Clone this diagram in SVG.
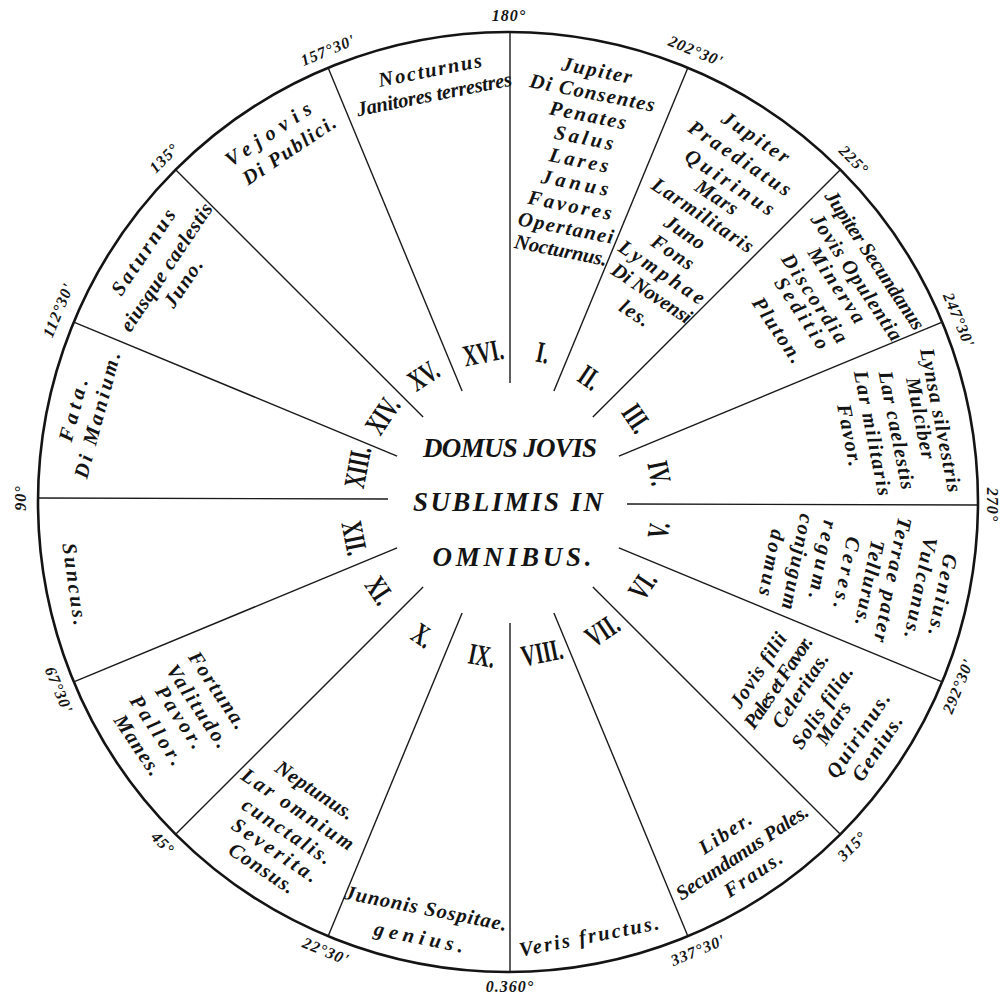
<svg xmlns="http://www.w3.org/2000/svg" width="1004" height="1002" viewBox="0 0 1004 1002">
<style>
.t{font-family:"Liberation Serif",serif;font-weight:bold;font-style:italic;font-size:20.5px;fill:#141414;text-anchor:middle;dominant-baseline:central}
.num{font-family:"Liberation Serif",serif;font-weight:bold;font-size:30px;fill:#141414;text-anchor:middle;dominant-baseline:central}
.deg{font-family:"Liberation Serif",serif;font-weight:bold;font-style:italic;font-size:16px;fill:#141414;text-anchor:middle;dominant-baseline:central;letter-spacing:1px}
.title{font-family:"Liberation Serif",serif;font-weight:bold;font-style:italic;font-size:27px;fill:#141414;text-anchor:middle;dominant-baseline:central}
.spoke{stroke:#1a1a1a;stroke-width:1.4;fill:none}
.rim{stroke:#141414;stroke-width:2.6;fill:none}
</style>
<rect width="1004" height="1002" fill="#ffffff"/>
<g id="rim"><circle class="rim" cx="508" cy="502" r="470"/></g>
<g id="spokes">
<line class="spoke" x1="510" y1="383" x2="510" y2="33"/>
<line class="spoke" x1="553.9" y1="391.1" x2="687.9" y2="67.8"/>
<line class="spoke" x1="592.9" y1="417.1" x2="840.3" y2="169.7"/>
<line class="spoke" x1="618.9" y1="456.1" x2="942.2" y2="322.1"/>
<line class="spoke" x1="627" y1="504" x2="977" y2="505"/>
<line class="spoke" x1="618.9" y1="547.9" x2="942.2" y2="681.9"/>
<line class="spoke" x1="592.9" y1="586.9" x2="840.3" y2="834.3"/>
<line class="spoke" x1="553.9" y1="612.9" x2="687.9" y2="936.2"/>
<line class="spoke" x1="510" y1="623" x2="510" y2="971"/>
<line class="spoke" x1="462.1" y1="612.9" x2="328.1" y2="936.2"/>
<line class="spoke" x1="423.1" y1="586.9" x2="175.7" y2="834.3"/>
<line class="spoke" x1="397.1" y1="547.9" x2="73.8" y2="681.9"/>
<line class="spoke" x1="388" y1="499" x2="37" y2="498"/>
<line class="spoke" x1="397.1" y1="456.1" x2="73.8" y2="322.1"/>
<line class="spoke" x1="423.1" y1="417.1" x2="175.7" y2="169.7"/>
<line class="spoke" x1="462.1" y1="391.1" x2="328.1" y2="67.8"/>
</g>
<g id="degree-labels">
<text class="deg" transform="translate(509 15)">180°</text>
<text class="deg" transform="translate(696 51) rotate(22.5)">202°30'</text>
<text class="deg" transform="translate(854 160) rotate(45)">225°</text>
<text class="deg" transform="translate(959 320) rotate(67.5)">247°30'</text>
<text class="deg" transform="translate(992 505) rotate(90)">270°</text>
<text class="deg" transform="translate(958 686) rotate(-67.5)">292°30'</text>
<text class="deg" transform="translate(852 846) rotate(-45)">315°</text>
<text class="deg" transform="translate(698 950) rotate(-22.5)">337°30'</text>
<text class="deg" transform="translate(510 986)">0.360°</text>
<text class="deg" transform="translate(326 951) rotate(22.5)">22°30'</text>
<text class="deg" transform="translate(163 843) rotate(45)">45°</text>
<text class="deg" transform="translate(59 690) rotate(67.5)">67°30'</text>
<text class="deg" transform="translate(20 498) rotate(-90)">90°</text>
<text class="deg" transform="translate(58 310) rotate(-67.5)">112°30'</text>
<text class="deg" transform="translate(164 158) rotate(-45)">135°</text>
<text class="deg" transform="translate(328 50) rotate(-22.5)">157°30'</text>
</g>
<g id="center-title">
<text class="title" x="510" y="448" textLength="174" lengthAdjust="spacing">DOMUS JOVIS</text>
<text class="title" x="508" y="502" textLength="190" lengthAdjust="spacing">SUBLIMIS IN</text>
<text class="title" x="512" y="557" textLength="159" lengthAdjust="spacing">OMNIBUS.</text>
</g>
<g id="sector-I">
<text class="num" transform="translate(543 352) rotate(11.25) scale(0.65 1)">I.</text>
<text class="t" transform="translate(597 70) rotate(11.25)" textLength="71" lengthAdjust="spacing">Jupiter</text>
<text class="t" transform="translate(592.5 92.5) rotate(11.25)" textLength="127" lengthAdjust="spacing">Di Consentes</text>
<text class="t" transform="translate(588 115) rotate(11.25)" textLength="78" lengthAdjust="spacing">Penates</text>
<text class="t" transform="translate(584 137.5) rotate(11.25)" textLength="60" lengthAdjust="spacing">Salus</text>
<text class="t" transform="translate(579 160) rotate(11.25)" textLength="60" lengthAdjust="spacing">Lares</text>
<text class="t" transform="translate(575 182.5) rotate(11.25)" textLength="68" lengthAdjust="spacing">Janus</text>
<text class="t" transform="translate(570 205) rotate(11.25)" textLength="85" lengthAdjust="spacing">Favores</text>
<text class="t" transform="translate(566 227.5) rotate(11.25)" textLength="97" lengthAdjust="spacing">Opertanei</text>
<text class="t" transform="translate(561 250) rotate(11.25)" textLength="94" lengthAdjust="spacing">Nocturnus.</text>
</g>
<g id="sector-II">
<text class="num" transform="translate(590 377) rotate(33.75) scale(0.65 1)">II.</text>
<text class="t" transform="translate(756 137) rotate(33.75)" textLength="77" lengthAdjust="spacing">Jupiter</text>
<text class="t" transform="translate(740 158) rotate(33.75)" textLength="119" lengthAdjust="spacing">Praediatus</text>
<text class="t" transform="translate(730 182) rotate(33.75)" textLength="103" lengthAdjust="spacing">Quirinus</text>
<text class="t" transform="translate(717 197) rotate(33.75)" textLength="47" lengthAdjust="spacing">Mars</text>
<text class="t" transform="translate(703 215) rotate(33.75)" textLength="118" lengthAdjust="spacing">Larmilitaris</text>
<text class="t" transform="translate(685 232) rotate(33.75)" textLength="45" lengthAdjust="spacing">Juno</text>
<text class="t" transform="translate(673 252) rotate(33.75)" textLength="47" lengthAdjust="spacing">Fons</text>
<text class="t" transform="translate(662 272) rotate(33.75)" textLength="99" lengthAdjust="spacing">Lymphae</text>
<text class="t" transform="translate(652 293) rotate(33.75)" textLength="92" lengthAdjust="spacing">Di Novensi</text>
<text class="t" transform="translate(635 313) rotate(33.75)" textLength="32" lengthAdjust="spacing">les.</text>
</g>
<g id="sector-III">
<text class="num" transform="translate(637 418) rotate(56.25) scale(0.65 1)">III.</text>
<text class="t" transform="translate(875 260) rotate(56.25)" textLength="163" lengthAdjust="spacing">Jupiter Secundanus</text>
<text class="t" transform="translate(857 277) rotate(56.25)" textLength="148" lengthAdjust="spacing">Jovis Opulentia</text>
<text class="t" transform="translate(837 285) rotate(56.25)" textLength="87" lengthAdjust="spacing">Minerva</text>
<text class="t" transform="translate(815 298) rotate(56.25)" textLength="103" lengthAdjust="spacing">Discordia</text>
<text class="t" transform="translate(802 313) rotate(56.25)" textLength="82" lengthAdjust="spacing">Seditio</text>
<text class="t" transform="translate(778 330) rotate(56.25)" textLength="75" lengthAdjust="spacing">Pluton.</text>
</g>
<g id="sector-IV">
<text class="num" transform="translate(660 473) rotate(78.75) scale(0.65 1)">IV.</text>
<text class="t" transform="translate(941 420) rotate(78.75)" textLength="146" lengthAdjust="spacing">Lynsa silvestris</text>
<text class="t" transform="translate(921 418) rotate(78.75)" textLength="83" lengthAdjust="spacing">Mulciber</text>
<text class="t" transform="translate(897 430) rotate(78.75)" textLength="120" lengthAdjust="spacing">Lar caelestis</text>
<text class="t" transform="translate(873 433) rotate(78.75)" textLength="127" lengthAdjust="spacing">Lar militaris</text>
<text class="t" transform="translate(850 435) rotate(78.75)" textLength="63" lengthAdjust="spacing">Favor.</text>
</g>
<g id="sector-V">
<text class="num" transform="translate(658 530) rotate(-78.75) scale(0.65 1)">V.</text>
<text class="t" transform="translate(772 563) rotate(101.25)" textLength="67" lengthAdjust="spacing">domus</text>
<text class="t" transform="translate(798 562) rotate(101.25)" textLength="97" lengthAdjust="spacing">conjugum</text>
<text class="t" transform="translate(823 560) rotate(101.25)" textLength="80" lengthAdjust="spacing">regum.</text>
<text class="t" transform="translate(847 573) rotate(101.25)" textLength="73" lengthAdjust="spacing">Ceres.</text>
<text class="t" transform="translate(870 583) rotate(101.25)" textLength="87" lengthAdjust="spacing">Tellurus.</text>
<text class="t" transform="translate(893 580) rotate(101.25)" textLength="127" lengthAdjust="spacing">Terrae pater</text>
<text class="t" transform="translate(921 588) rotate(101.25)" textLength="103" lengthAdjust="spacing">Vulcanus.</text>
<text class="t" transform="translate(943 595) rotate(101.25)" textLength="83" lengthAdjust="spacing">Genius.</text>
</g>
<g id="sector-VI">
<text class="num" transform="translate(642 585) rotate(-56.25) scale(0.65 1)">VI.</text>
<text class="t" transform="translate(758 670) rotate(-56.25)" textLength="86" lengthAdjust="spacing">Jovis filii</text>
<text class="t" transform="translate(778 682) rotate(-56.25)" textLength="107" lengthAdjust="spacing">Pales et Favor.</text>
<text class="t" transform="translate(800 690) rotate(-56.25)" textLength="86" lengthAdjust="spacing">Celeritas.</text>
<text class="t" transform="translate(822 707) rotate(-56.25)" textLength="95" lengthAdjust="spacing">Solis filia.</text>
<text class="t" transform="translate(833 723) rotate(-56.25)" textLength="47" lengthAdjust="spacing">Mars</text>
<text class="t" transform="translate(858 735) rotate(-56.25)" textLength="98" lengthAdjust="spacing">Quirinus.</text>
<text class="t" transform="translate(877 748) rotate(-56.25)" textLength="75" lengthAdjust="spacing">Genius.</text>
</g>
<g id="sector-VII">
<text class="num" transform="translate(602 630) rotate(-33.75) scale(0.65 1)">VII.</text>
<text class="t" transform="translate(725 833) rotate(-33.75)" textLength="59" lengthAdjust="spacing">Liber.</text>
<text class="t" transform="translate(742 852) rotate(-33.75)" textLength="155" lengthAdjust="spacing">Secundanus Pales.</text>
<text class="t" transform="translate(753 874) rotate(-33.75)" textLength="66" lengthAdjust="spacing">Fraus.</text>
</g>
<g id="sector-VIII">
<text class="num" transform="translate(542 652) rotate(-11.25) scale(0.65 1)">VIII.</text>
<text class="t" transform="translate(589 936) rotate(-11.25)" textLength="142" lengthAdjust="spacing">Veris fructus.</text>
</g>
<g id="sector-IX">
<text class="num" transform="translate(482 655) rotate(11.25) scale(0.65 1)">IX.</text>
<text class="t" transform="translate(426 908) rotate(11.25)" textLength="165" lengthAdjust="spacing">Junonis Sospitae.</text>
<text class="t" transform="translate(419 937) rotate(11.25)" textLength="91" lengthAdjust="spacing">genius.</text>
</g>
<g id="sector-X">
<text class="num" transform="translate(423 635) rotate(33.75) scale(0.65 1)">X.</text>
<text class="t" transform="translate(315 790) rotate(33.75)" textLength="90" lengthAdjust="spacing">Neptunus.</text>
<text class="t" transform="translate(298 809) rotate(33.75)" textLength="131" lengthAdjust="spacing">Lar omnium</text>
<text class="t" transform="translate(287 831) rotate(33.75)" textLength="103" lengthAdjust="spacing">cunctalis.</text>
<text class="t" transform="translate(275 850) rotate(33.75)" textLength="99" lengthAdjust="spacing">Severita.</text>
<text class="t" transform="translate(262 868) rotate(33.75)" textLength="75" lengthAdjust="spacing">Consus.</text>
</g>
<g id="sector-XI">
<text class="num" transform="translate(380 590) rotate(56.25) scale(0.65 1)">XI.</text>
<text class="t" transform="translate(218 690) rotate(56.25)" textLength="89" lengthAdjust="spacing">Fortuna.</text>
<text class="t" transform="translate(198 706) rotate(56.25)" textLength="96" lengthAdjust="spacing">Valitudo.</text>
<text class="t" transform="translate(180 717) rotate(56.25)" textLength="71" lengthAdjust="spacing">Pavor.</text>
<text class="t" transform="translate(157 730) rotate(56.25)" textLength="80" lengthAdjust="spacing">Pallor.</text>
<text class="t" transform="translate(138 745) rotate(56.25)" textLength="69" lengthAdjust="spacing">Manes.</text>
</g>
<g id="sector-XII">
<text class="num" transform="translate(355 538) rotate(78.75) scale(0.65 1)">XII.</text>
<text class="t" transform="translate(75 584) rotate(82)" textLength="83" lengthAdjust="spacing">Suncus.</text>
</g>
<g id="sector-XIII">
<text class="num" transform="translate(357 467) rotate(-78.75) scale(0.65 1)">XIII.</text>
<text class="t" transform="translate(73 410) rotate(-75)" textLength="64" lengthAdjust="spacing">Fata.</text>
<text class="t" transform="translate(97 415) rotate(-75)" textLength="130" lengthAdjust="spacing">Di Manium.</text>
</g>
<g id="sector-XIV">
<text class="num" transform="translate(382 415) rotate(-56.25) scale(0.65 1)">XIV.</text>
<text class="t" transform="translate(143 252) rotate(-56.25)" textLength="99" lengthAdjust="spacing">Saturnus</text>
<text class="t" transform="translate(166 267) rotate(-56.25)" textLength="150" lengthAdjust="spacing">eiusque caelestis</text>
<text class="t" transform="translate(183 283) rotate(-56.25)" textLength="54" lengthAdjust="spacing">Juno.</text>
</g>
<g id="sector-XV">
<text class="num" transform="translate(423 375) rotate(-33.75) scale(0.65 1)">XV.</text>
<text class="t" transform="translate(268 134) rotate(-33.75)" textLength="99" lengthAdjust="spacing">Vejovis</text>
<text class="t" transform="translate(289 150) rotate(-33.75)" textLength="108" lengthAdjust="spacing">Di Publici.</text>
</g>
<g id="sector-XVI">
<text class="num" transform="translate(483 352) rotate(-11.25) scale(0.65 1)">XVI.</text>
<text class="t" transform="translate(430 70) rotate(-11.25)" textLength="105" lengthAdjust="spacing">Nocturnus</text>
<text class="t" transform="translate(434 94) rotate(-11.25)" textLength="158" lengthAdjust="spacing">Janitores terrestres</text>
</g>
</svg>
